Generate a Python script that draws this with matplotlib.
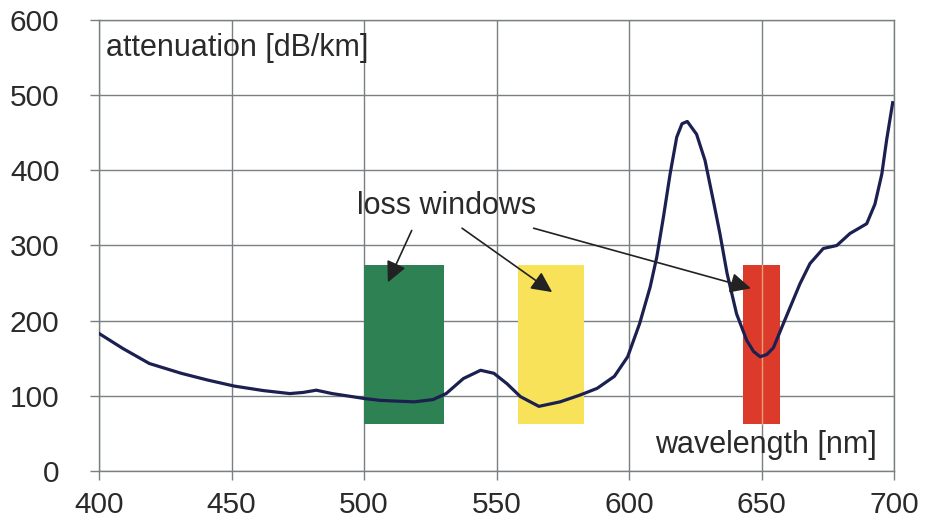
import numpy as np
import matplotlib
matplotlib.use('Agg')
import matplotlib.pyplot as plt
from matplotlib.patches import Rectangle

# attenuation curve (nm, dB/km)
wavelength = [400, 409, 419, 431, 441, 451, 462, 472, 477, 482, 488, 500, 506,
              512, 519, 526, 531, 537.5, 544, 549, 554, 559, 566, 574, 581.5,
              588, 594.5, 599.5, 604, 608, 610.5, 613, 615.5, 618, 620, 622,
              625.5, 628.7, 631.8, 634.3, 637, 640.6, 644.4, 647, 649.5, 652,
              654.5, 658, 664.5, 668.3, 673.3, 678.4, 683.4, 689.7, 692.8,
              695.4, 697.2, 699.5]
attenuation = [183, 163, 143, 130, 121, 113, 107, 103, 104.5, 107.5, 103, 96.5,
               94, 93, 92, 95, 103, 123, 134, 130, 116, 99, 86, 92, 101,
               110, 126, 152, 196, 245, 285, 338, 395, 444, 462, 465,
               448, 413, 360, 316, 263, 209, 174, 159, 152, 155,
               164, 194, 249, 276, 296, 300, 316, 329, 355,
               395, 440, 490]

# loss windows: (start nm, end nm, colour)
windows_start = [500, 558, 643]
windows_end = [530, 583, 657]
windows_color = ['#2e8153', '#f7e25a', '#dc3b2c']
window_bottom = 62
window_top = 274

# arrows from the "loss windows" label to each window
arrow_from = [(518, 320), (537, 323), (564, 323)]
arrow_to = [(509, 251), (571, 238), (646, 243)]

x_ticks = [400, 450, 500, 550, 600, 650, 700]
y_ticks = [0, 100, 200, 300, 400, 500, 600]

plt.rcParams['font.family'] = ['Liberation Sans', 'DejaVu Sans']

fig = plt.figure(figsize=(9.34, 5.18), dpi=100)
ax = fig.add_axes([99 / 934, 47 / 518, 795 / 934, 451 / 518])

grid_c = '#7a7f80'
ax.set_xlim(400, 700)
ax.set_ylim(0, 600)
ax.set_xticks(x_ticks)
ax.set_yticks(y_ticks)
ax.grid(True, color=grid_c, lw=1.0, zorder=0)
for s in ax.spines.values():
    s.set_color(grid_c)
    s.set_linewidth(1.0)
ax.tick_params(axis='both', colors=grid_c, labelcolor='#2a2a2a', labelsize=21.5,
               length=6.5, width=1.0)
ax.tick_params(axis='y', pad=22)
ax.tick_params(axis='x', pad=8)

for x0, x1, c in zip(windows_start, windows_end, windows_color):
    ax.add_patch(Rectangle((x0, window_bottom), x1 - x0, window_top - window_bottom,
                           facecolor=c, edgecolor='none', zorder=2))
ax.plot([650, 650], [window_bottom, window_top], color='#f0a070', lw=1.0, zorder=2.5)

ax.plot(wavelength, attenuation, color='#1c2050', lw=2.3, zorder=3,
        solid_joinstyle='round')

for (xs, ys), (xe, ye) in zip(arrow_from, arrow_to):
    ax.annotate('', xy=(xe, ye), xytext=(xs, ys),
                arrowprops=dict(arrowstyle='-|>,head_length=0.45,head_width=0.22',
                                color='#222222', lw=1.2,
                                mutation_scale=28, shrinkA=0, shrinkB=0),
                zorder=4)

ax.text(531, 352, 'loss windows', fontsize=22, color='#2a2a2a',
        ha='center', va='center', zorder=5)
ax.text(402.5, 563, 'attenuation [dB/km]', fontsize=22, color='#2a2a2a',
        ha='left', va='center', zorder=5)
ax.text(693.5, 35, 'wavelength [nm]', fontsize=22, color='#2a2a2a',
        ha='right', va='center', zorder=5)

fig.savefig('out.png', dpi=100)
